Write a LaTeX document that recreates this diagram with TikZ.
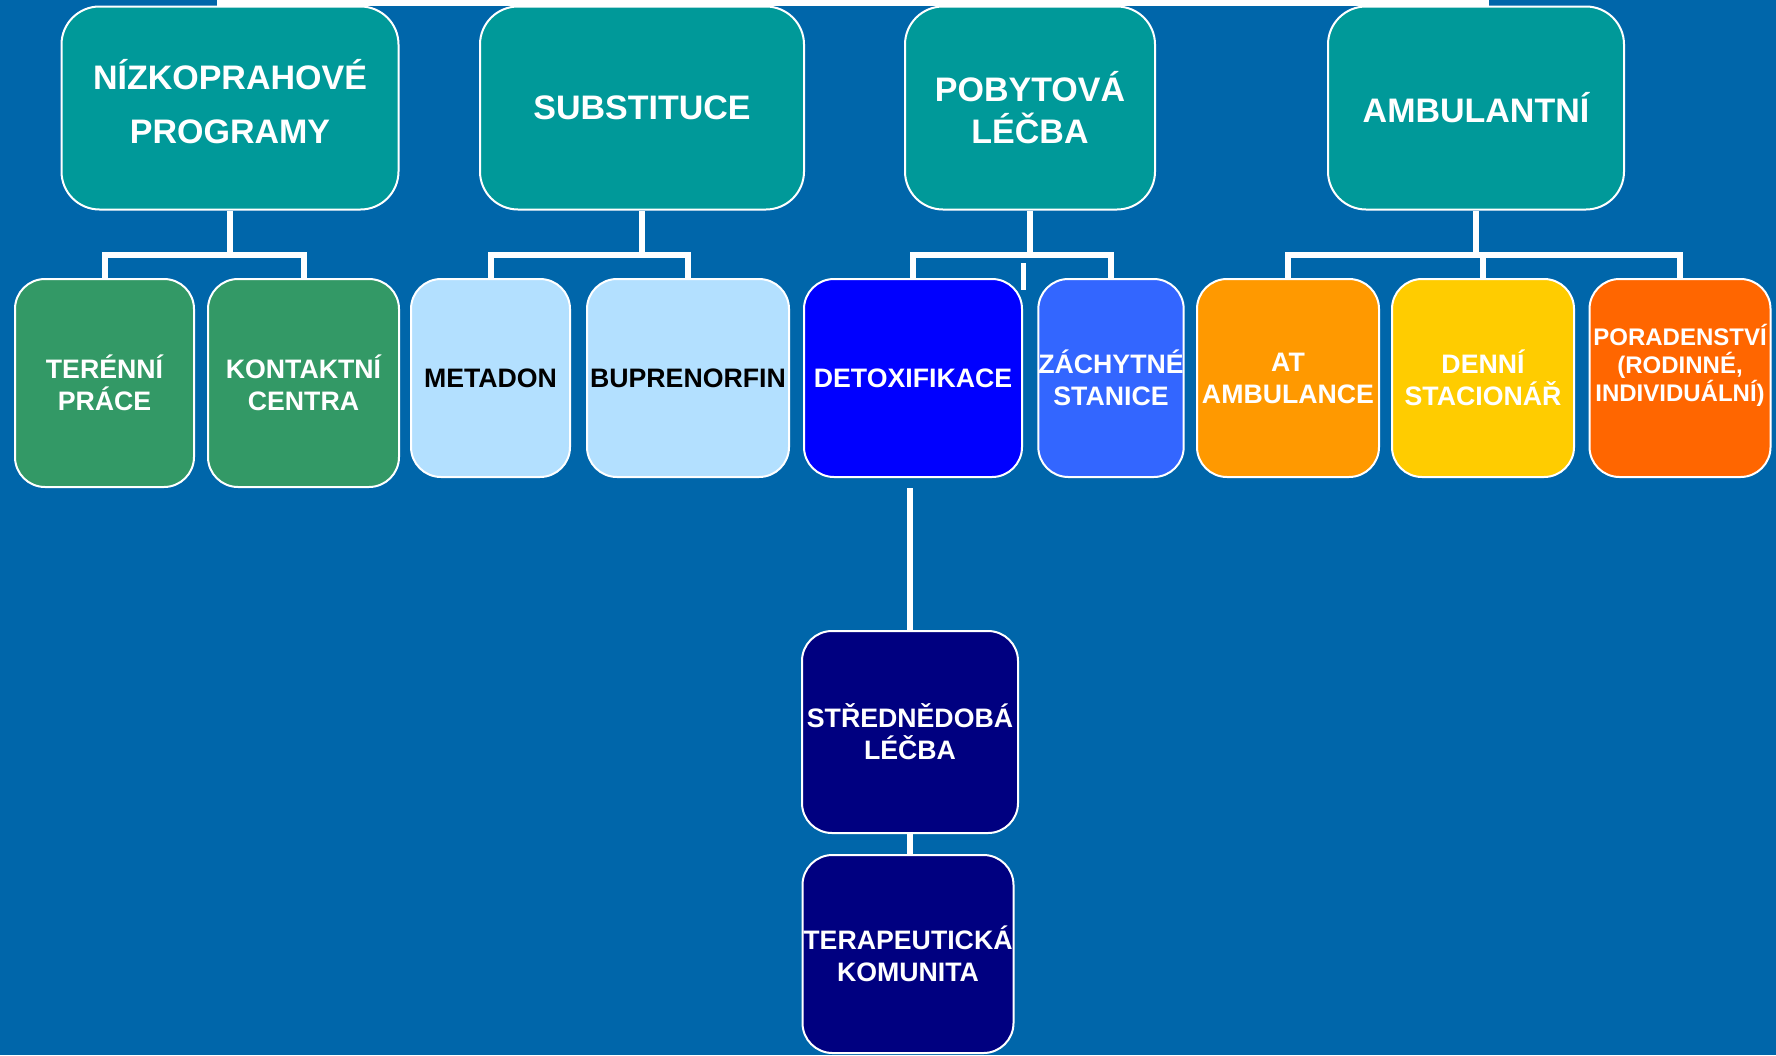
\documentclass[tikz,border=0pt]{standalone}
\usepackage{fontspec}
\setmainfont{Liberation Sans}

\definecolor{bgblue}{RGB}{0,102,170}
\definecolor{tealbox}{RGB}{0,153,153}
\definecolor{greenbox}{RGB}{51,153,102}
\definecolor{skybox}{RGB}{179,224,255}
\definecolor{detoxblue}{RGB}{0,0,255}
\definecolor{stationblue}{RGB}{51,102,255}
\definecolor{orangebox}{RGB}{255,153,0}
\definecolor{yellowbox}{RGB}{255,204,0}
\definecolor{redorange}{RGB}{255,102,0}
\definecolor{navybox}{RGB}{0,0,128}

\begin{document}
\begin{tikzpicture}[x=1pt, y=-1pt,
    box/.style={draw=white, line width=2pt, rectangle, inner sep=0pt, align=center, text=white},
    topbox/.style={box, fill=tealbox, rounded corners=38pt, minimum height=203pt,
        font=\bfseries\fontsize{34}{42}\selectfont},
    subbox/.style={box, rounded corners=30pt, minimum height=198pt,
        font=\bfseries\fontsize{26.7}{32}\selectfont},
    link/.style={white, line width=6pt}]

    % Background
    \fill[bgblue] (0,0) rectangle (1776,1055);
    \useasboundingbox (0,0) rectangle (1776,1055);

    % Line from above
    \coordinate (topleft) at (217,3);
    \coordinate (topright) at (1489,3);
    \draw[link] (topleft) -- (topright);

    % Main groups
    \node[topbox, minimum width=337pt, font=\bfseries\fontsize{34}{54}\selectfont, text depth=14pt] (nizk) at (230,108) {NÍZKOPRAHOVÉ\\PROGRAMY};
    \node[topbox, minimum width=324pt] (subst) at (642,108) {SUBSTITUCE};
    \node[topbox, minimum width=250pt] (pobyt) at (1030,108) {POBYTOVÁ\\LÉČBA};
    \node[topbox, minimum width=296pt] (ambul) at (1476,108) {AMBULANTNÍ};

    % Second row
    \node[subbox, fill=greenbox, minimum width=179pt, minimum height=208pt] (teren) at (104.5,383) {TERÉNNÍ\\PRÁCE};
    \node[subbox, fill=greenbox, minimum width=191pt, minimum height=208pt] (kontakt) at (303.5,383) {KONTAKTNÍ\\CENTRA};
    \node[subbox, fill=skybox, text=black, minimum width=159pt] (metadon) at (490.5,378) {METADON};
    \node[subbox, fill=skybox, text=black, minimum width=202pt] (bupren) at (688,378) {BUPRENORFIN};
    \node[subbox, fill=detoxblue, minimum width=218pt] (detox) at (913,378) {DETOXIFIKACE};
    \node[subbox, fill=stationblue, minimum width=144pt] (zachyt) at (1111,378) {ZÁCHYTNÉ\\STANICE};
    \node[subbox, fill=orangebox, minimum width=182pt] (at) at (1288,378) {AT\\AMBULANCE};
    \node[subbox, fill=yellowbox, minimum width=182pt] (denni) at (1483,378) {DENNÍ\\STACIONÁŘ};
    \node[subbox, fill=redorange, minimum width=181pt, text depth=31pt, font=\bfseries\fontsize{24}{28}\selectfont] (porad) at (1680,378) {PORADENSTVÍ\\(RODINNÉ,\\INDIVIDUÁLNÍ)};

    % Longer treatment
    \node[subbox, fill=navybox, minimum width=216pt, minimum height=202pt] (stred) at (910,732) {STŘEDNĚDOBÁ\\LÉČBA};
    \node[subbox, fill=navybox, minimum width=211pt] (terap) at (908,954) {TERAPEUTICKÁ\\KOMUNITA};

    % Connectors
    \draw[link] (nizk.south) -- (nizk.south |- 0,255);
    \draw[link] (teren.north) |- (kontakt.north |- 0,255) -- (kontakt.north);
    \draw[link] (subst.south) -- (subst.south |- 0,255);
    \draw[link] (metadon.north) |- (bupren.north |- 0,255) -- (bupren.north);
    \draw[link] (pobyt.south) -- (pobyt.south |- 0,255);
    \draw[link] (detox.north) |- (zachyt.north |- 0,255) -- (zachyt.north);
    \draw[link] (ambul.south) -- (ambul.south |- 0,255);
    \draw[link] (at.north) |- (porad.north |- 0,255) -- (porad.north);
    \draw[link] (denni.north) -- (denni.north |- 0,255);

    % Stray mark below the bar
    \coordinate (stub) at (1023,263);
    \draw[link, line width=5pt] (stub) -- ++(0,27);

    \draw[link] ([yshift=-10pt]detox.south -| stred.north) -- (stred.north);
    \draw[link] (stred.south) -- (stred.south |- terap.north);
\end{tikzpicture}
\end{document}
